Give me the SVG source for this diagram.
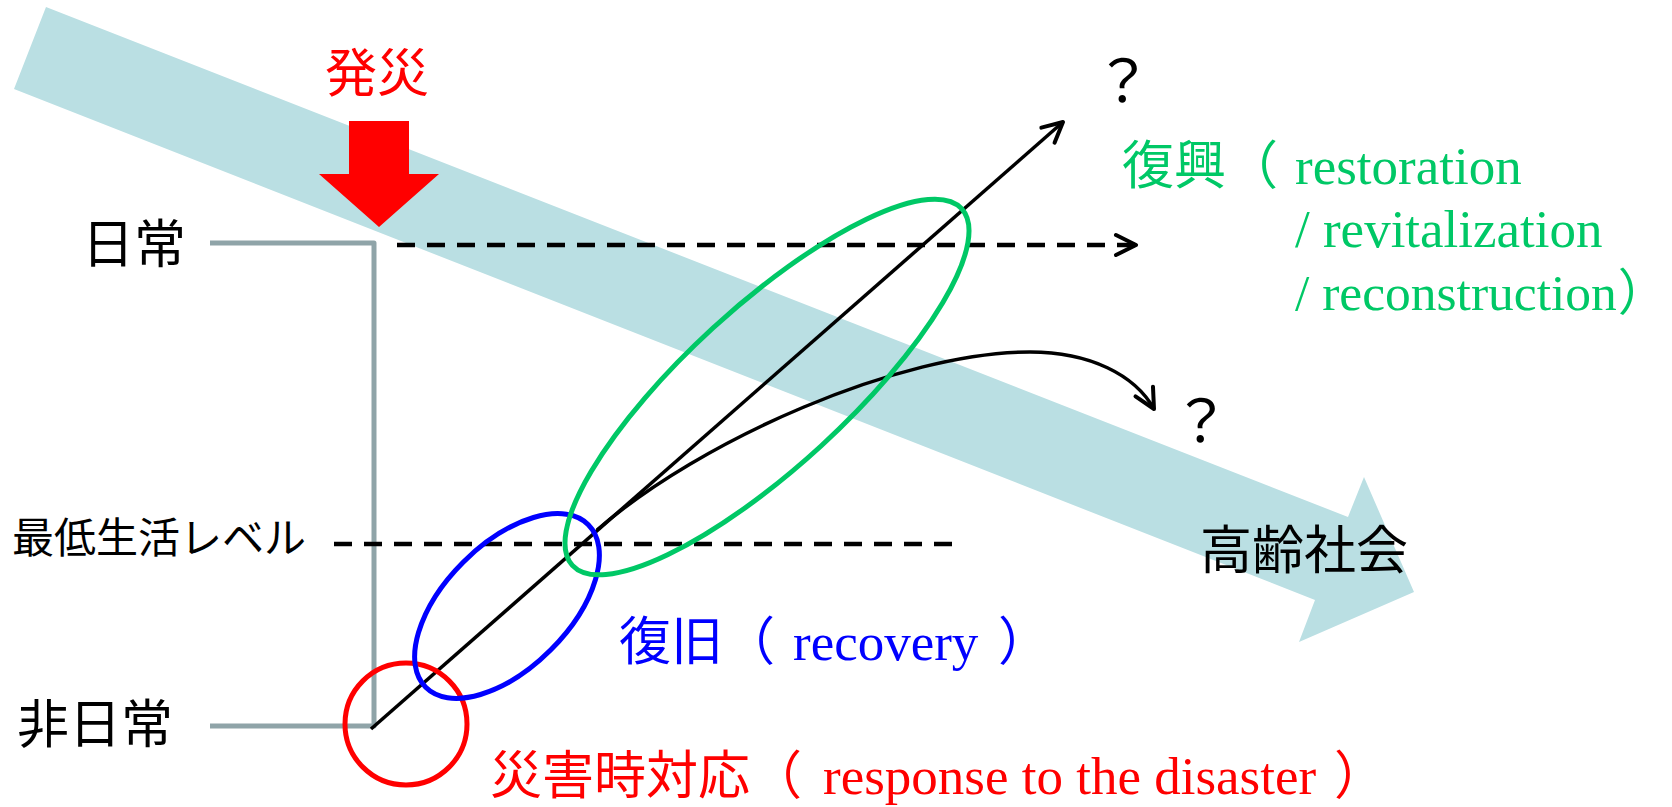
<svg xmlns="http://www.w3.org/2000/svg" width="1672" height="807" viewBox="0 0 1672 807">
  <style>
    .cjk { font-family: 'Noto Sans CJK JP', 'Noto Sans CJK SC', sans-serif; font-size: 52px; }
    .lat { font-family: 'Liberation Serif', 'Times New Roman', serif; font-size: 53px; }
    .blk { fill: #000000; }
    .red { fill: #FF0000; }
    .grn { fill: #00C866; }
    .blu { fill: #0000FF; }
    .dash { fill: none; stroke: #000; stroke-width: 4.5; stroke-dasharray: 18 12; }
    .solid { fill: none; stroke: #000; stroke-width: 3.5; }
    .ring { fill: none; stroke-width: 5; }
  </style>
  <defs>
    <marker id="chev" viewBox="-24 -14 30 28" markerWidth="30" markerHeight="28" refX="0" refY="0" orient="auto" markerUnits="userSpaceOnUse">
      <path d="M-20,-10 L0,0 L-20,10" fill="none" stroke="#000" stroke-width="4" stroke-linecap="round" stroke-linejoin="round"/>
    </marker>
  </defs>
  <rect width="1672" height="807" fill="#FFFFFF"/>

  <g id="aging-band">
    <polygon points="46,7 1348,517 1364,477 1414,592 1299,642 1315,600 14,89" fill="#BADFE3"/>
  </g>

  <g id="disaster-arrow">
    <polygon points="349,121 409,121 409,174 439,174 379,227 319,174 349,174" fill="#FF0000"/>
  </g>

  <g id="axis">
    <path d="M210,243 H374 V726 H210" fill="none" stroke="#8FA4A8" stroke-width="5" stroke-linejoin="round"/>
  </g>

  <g id="connectors">
    <line class="dash" x1="397" y1="245" x2="1136" y2="245" marker-end="url(#chev)"/>
    <line class="dash" x1="334" y1="544" x2="952" y2="544"/>
    <line class="solid" x1="371" y1="729" x2="1063" y2="122" marker-end="url(#chev)"/>
    <path class="solid" d="M597,530 C700,440 900,352 1030,352 C1090,352 1135,375 1154,409" marker-end="url(#chev)"/>
  </g>

  <g id="response-circle">
    <circle class="ring" cx="406" cy="724" r="61" stroke="#FF0000"/>
  </g>
  <g id="recovery-ellipse">
    <ellipse class="ring" cx="507" cy="606" rx="115" ry="62" transform="rotate(-45 507 606)" stroke="#0000FF"/>
  </g>
  <g id="restoration-ellipse">
    <ellipse class="ring" cx="767" cy="387" rx="264" ry="80" transform="rotate(-42.5 767 387)" stroke="#00C866"/>
  </g>

  <g id="label-hassai">
    <text class="cjk red" x="325" y="92">発災</text>
  </g>
  <g id="label-nichijo">
    <text class="cjk blk" x="82" y="263">日常</text>
  </g>
  <g id="label-hinichijo">
    <text class="cjk blk" x="17" y="743">非日常</text>
  </g>
  <g id="label-minimum">
    <text class="cjk blk" x="12" y="553" style="font-size:42px">最低生活レベル</text>
  </g>
  <g id="label-aging">
    <text class="cjk blk" x="1200" y="569">高齢社会</text>
  </g>
  <g id="label-q1">
    <text class="cjk blk" x="1123" y="102" text-anchor="middle" style="font-size:58px">？</text>
  </g>
  <g id="label-q2">
    <text class="cjk blk" x="1201" y="442" text-anchor="middle" style="font-size:58px">？</text>
  </g>

  <g id="label-restoration">
    <text class="cjk grn" x="1122" y="184">復興（</text>
    <text class="lat grn" x="1295" y="184">restoration</text>
    <text class="lat grn" x="1295" y="247">/ revitalization</text>
    <text class="lat grn" x="1295" y="310" style="font-size:51.5px">/ reconstruction<tspan class="cjk" style="font-size:50px" dx="1">）</tspan></text>
  </g>

  <g id="label-recovery">
    <text class="cjk blu" x="619" y="660">復旧（</text>
    <text class="lat blu" x="793" y="660">recovery</text>
    <text class="cjk blu" x="998" y="660">）</text>
  </g>

  <g id="label-response">
    <text class="cjk red" x="490" y="794">災害時対応（</text>
    <text class="lat red" x="823" y="794">response to the disaster</text>
    <text class="cjk red" x="1334" y="794">）</text>
  </g>
</svg>
